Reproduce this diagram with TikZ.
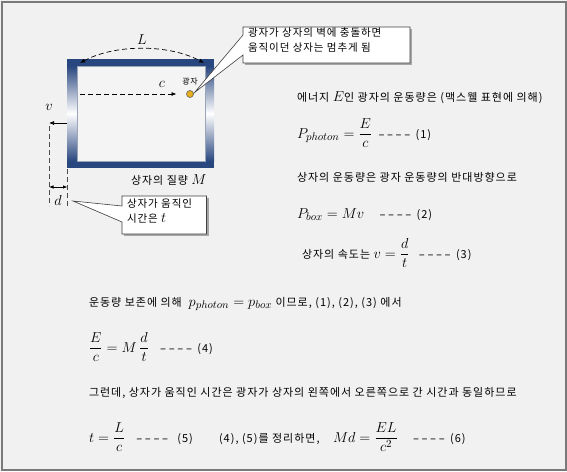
\documentclass[tikz,border=0pt]{standalone}
\usepackage{fontspec}
\newfontfamily\kr[LetterSpace=9]{Noto Sans CJK KR}
\usetikzlibrary{arrows.meta,calc}
\definecolor{bgc}{HTML}{F1F1F1}
\definecolor{framec}{HTML}{7A7A7A}
\definecolor{navy}{HTML}{29477F}
\definecolor{innerc}{HTML}{F4F4F4}
\definecolor{innerb}{HTML}{9AA5B8}
\definecolor{photonc}{HTML}{E8B020}
\newcommand\eqm[1]{{\fontsize{15}{18}\selectfont$\displaystyle #1$}}
\newcommand\qd{\makebox[8.6pt]{\scalebox{1.7}[1]{-}}}
\newcommand\dashline{\qd\qd\qd\qd}
\begin{document}
\begin{tikzpicture}[x=1pt,y=-1pt,
  every node/.style={inner sep=0pt, outer sep=0pt},
  txt/.style={font=\kr\fontsize{11}{13}\selectfont, anchor=base west},
  calltxt/.style={font=\kr\fontsize{10.5}{15}\selectfont, align=left, anchor=north west},
  dsh/.style={dashed, dash pattern=on 5pt off 3pt, line width=0.7pt},
  tip/.style={-{Latex[length=5pt,width=4pt]}},
  calloutbox/.style={fill=white, draw=black!75, line width=0.6pt, line join=miter},
  shadowbox/.style={fill=black!35}]
\useasboundingbox (0,0) rectangle (567,471);
% background and frame
\fill[bgc] (0,0) rectangle (567,471);
\draw[framec, line width=2pt] (1.5,1.5) rectangle (565.5,469.5);

% box
\fill[navy] (67,59) rectangle (214,168);
\shade[top color=navy, bottom color=navy, middle color=white] (67,66) rectangle (76.5,161);
\shade[top color=navy, bottom color=navy, middle color=white] (205.5,66) rectangle (214,161);
\filldraw[fill=innerc, draw=innerb, line width=0.6pt] (77,66) rectangle (205,161);

% L arc
\coordinate (la) at (80,63);
\coordinate (lb) at (204,63);
\draw[dsh, {Latex[length=5pt,width=4pt]}-{Latex[length=5pt,width=4pt]}] (la) .. controls (115,44) and (169,44) .. (lb);
\node[font=\fontsize{14}{16}\selectfont] (L) at (142,40) {$L$};

% photon and c arrow
\node[circle, draw=black!70, fill=photonc, minimum size=7pt, line width=0.5pt] (ph) at (190,94) {};
\node[font=\kr\fontsize{8}{9}\selectfont] (phl) at (190,82) {광자};
\coordinate (cs) at (80,94);
\draw[dsh, tip] (cs) -- ($(ph.west)+(-10,0)$);
\node[font=\fontsize{14}{16}\selectfont] (c) at (162,84) {$c$};

% v and d
\coordinate (vs) at (67,123);
\coordinate (ve) at (49,123);
\draw[line width=0.7pt, tip] (vs) -- (ve);
\node[font=\fontsize{14}{16}\selectfont] (v) at (49,107) {$v$};
\coordinate (d1t) at (49,126);
\coordinate (d1b) at (49,206);
\coordinate (d2t) at (67.5,169);
\coordinate (d2b) at (67.5,206);
\draw[dsh, black!70] (d1t) -- (d1b);
\draw[dsh, black!70] (d2t) -- (d2b);
\coordinate (da) at (49,187);
\coordinate (db) at (67.5,187);
\draw[line width=0.7pt, {Latex[length=4.5pt,width=3.5pt]}-{Latex[length=4.5pt,width=3.5pt]}] (da) -- (db);
\node[font=\fontsize{14}{16}\selectfont] (d) at (58,200) {$d$};

\node[txt] (mass) at (131,184) {상자의 질량 \eqm{M}};

% callout 1
\coordinate (c1tip) at ($(ph.north east)+(2,1)$);
\fill[shadowbox] (245,29) rectangle (412,65);
\draw[calloutbox] (243,27) -- (410,27) -- (410,63) -- (243,63) -- (243,55) -- (c1tip) -- (243,35) -- cycle;
\node[calltxt] (ct1) at (248,27.5) {광자가 상자의 벽에 충돌하면\\움직이던 상자는 멈추게 됨};

% callout 2
\coordinate (c2tip) at (73,201);
\fill[shadowbox] (124,198) rectangle (208.5,236);
\draw[calloutbox] (122,196) -- (206.5,196) -- (206.5,234) -- (122,234) -- (122,222) -- (c2tip) -- (122,206) -- cycle;
\node[calltxt] (ct2) at (127,199) {상자가 움직인\\시간은 \eqm{t}};

% right texts
\node[txt] (t1) at (297,101) {에너지 \eqm{E}인 광자의 운동량은 (맥스웰 표현에 의해)};
\node[txt] (e1) at (297,138) {\eqm{P_{photon}=\frac{E}{c}}\hspace{5pt}\dashline\hspace{4pt}(1)};
\node[txt] (t2) at (297,181) {상자의 운동량은 광자 운동량의 반대방향으로};
\node[txt] (e2) at (297,218) {\eqm{P_{box}=Mv}\hspace{14pt}\dashline\hspace{4pt}(2)};
\node[txt] (t3) at (302,258) {상자의 속도는 \eqm{v=\frac{d}{t}}\hspace{8pt}\dashline\hspace{4pt}(3)};
\node[txt] (t4) at (89,306) {운동량 보존에 의해 \ \eqm{p_{photon}=p_{box}} 이므로, (1), (2), (3) 에서};
\node[txt] (e4) at (89,352) {\eqm{\frac{E}{c}=M\,\frac{d}{t}}\hspace{10pt}\dashline\hspace{4pt}(4)};
\node[txt] (t5) at (89,396) {그런데, 상자가 움직인 시간은 광자가 상자의 왼쪽에서 오른쪽으로 간 시간과 동일하므로};
\node[txt] (e5) at (89,442) {\eqm{t=\frac{L}{c}}\hspace{10pt}\dashline\hspace{8pt}(5)};
\node[txt] (t6) at (219,442) {(4), (5)를 정리하면,};
\node[txt] (e6) at (333,442) {\eqm{Md=\frac{EL}{c^2}}\hspace{14pt}\dashline\hspace{4pt}(6)};
\end{tikzpicture}
\end{document}
